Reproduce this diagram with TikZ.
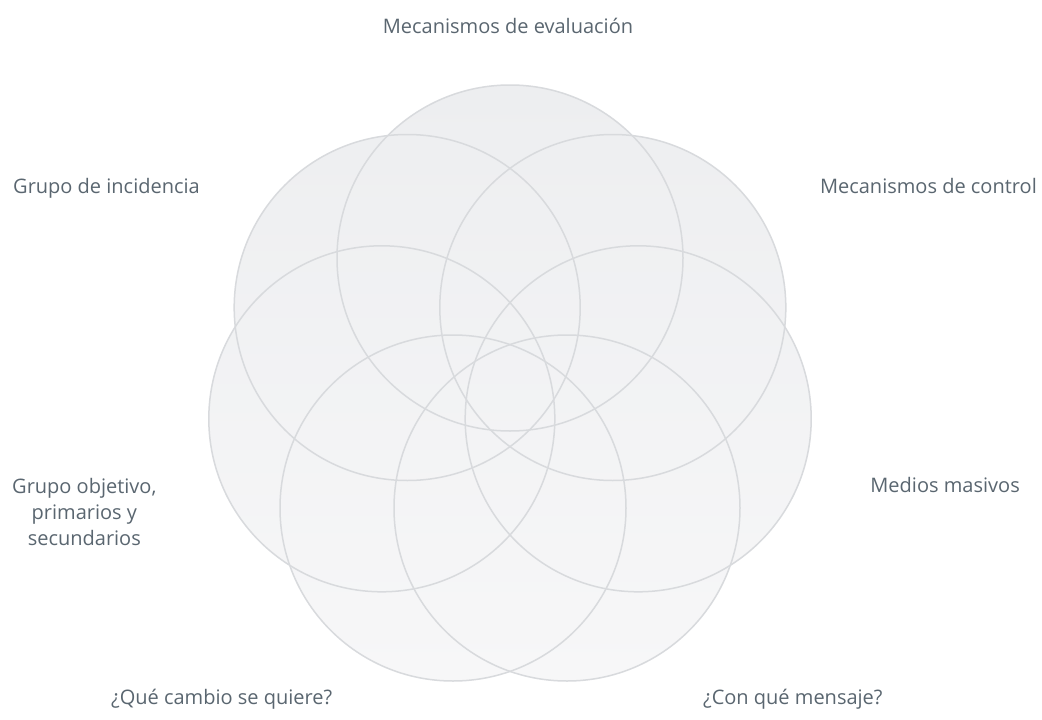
\documentclass[tikz,border=0pt]{standalone}
\usepackage{fontspec}
\setmainfont{Open Sans}
\definecolor{lbl}{RGB}{90,102,112}
\definecolor{ring}{RGB}{216,218,221}
\definecolor{shadetop}{RGB}{237,238,240}
\definecolor{shadebot}{RGB}{247,247,248}
\begin{document}
\begin{tikzpicture}[x=1pt,y=-1pt,
  lab/.style={text=lbl, font=\fontsize{20}{26}\selectfont, inner sep=0pt},
  petal/.style={draw=ring, line width=1.5pt}]
\useasboundingbox (0,0) rectangle (1042,720);
\fill[white] (0,0) rectangle (1042,720);
\coordinate (c1) at (510,258);
\coordinate (c2) at (612.8,307.5);
\coordinate (c3) at (638.2,418.8);
\coordinate (c4) at (567,508);
\coordinate (c5) at (453,508);
\coordinate (c6) at (381.8,418.8);
\coordinate (c7) at (407.2,307.5);
\shade[top color=shadetop, bottom color=shadebot]
  (c1) circle (173pt) (c2) circle (173pt) (c3) circle (173pt)
  (c4) circle (173pt) (c5) circle (173pt) (c6) circle (173pt)
  (c7) circle (173pt);
\foreach \c in {c1,c2,c3,c4,c5,c6,c7}
  \draw[petal] (\c) circle (173pt);
\node[lab, anchor=base] (t1) at (508,33) {Mecanismos de evaluación};
\node[lab, anchor=base west] (t7) at (13,193) {Grupo de incidencia};
\node[lab, anchor=base east] (t2) at (1037,193) {Mecanismos de control};
\node[lab, anchor=base west, align=center] (t6) at (12,545) {Grupo objetivo,\\primarios y\\secundarios};
\node[lab, anchor=base east] (t3) at (1020,492) {Medios masivos};
\node[lab, anchor=base west] (t5) at (111,704) {¿Qué cambio se quiere?};
\node[lab, anchor=base west] (t4) at (703,704) {¿Con qué mensaje?};
\end{tikzpicture}
\end{document}
